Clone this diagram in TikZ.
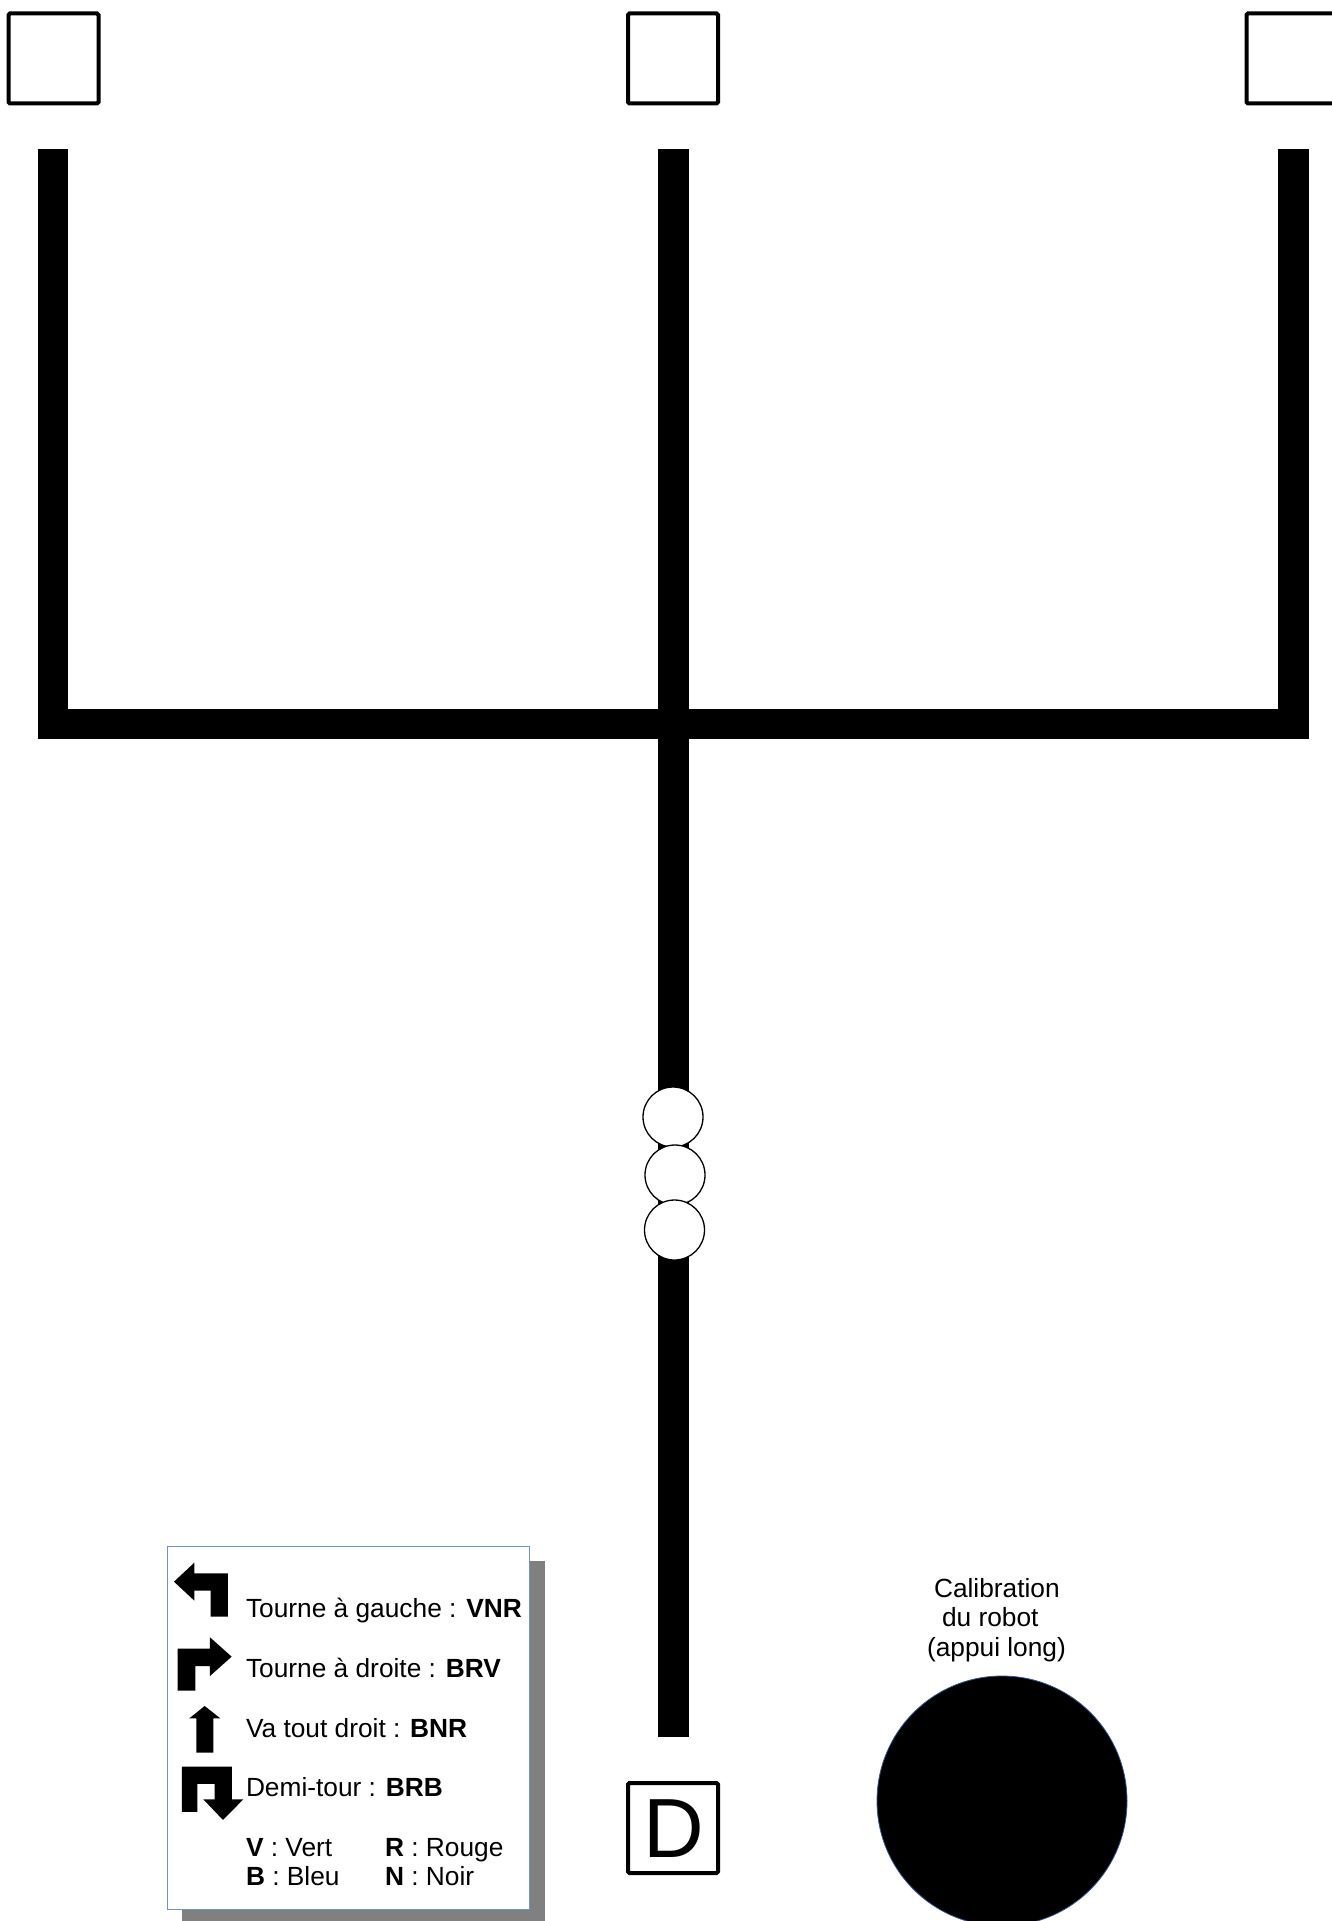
\documentclass[tikz,border=0pt]{standalone}
\usepackage{fontspec}
\setmainfont{Liberation Sans}
\definecolor{legendborder}{HTML}{6F93C6}
\definecolor{btnborder}{HTML}{2F5597}
\tikzset{
  x=1pt,y=-1pt,
  startbox/.style={draw=black,line width=4pt,rounded corners=1.5pt,fill=white,minimum width=90pt,minimum height=90pt,inner sep=0pt,outer sep=0pt},
  track/.style={fill=black},
  sensor/.style={circle,draw=black,line width=1.3pt,fill=white,minimum size=60pt,inner sep=0pt},
  txt/.style={anchor=base west,inner sep=0pt,outer sep=0pt,font=\fontsize{26.3}{30}\selectfont},
  turnarrow/.style={fill=black},
}
\begin{document}
\begin{tikzpicture}
\path[fill=white] (0,0) rectangle (1332,1921);
\clip (0,0) rectangle (1332,1921);
% target boxes
\node[startbox] (t1) at (53.5,58.5) {};
\node[startbox] (t2) at (673,58.5) {};
\node[startbox] (t3) at (1291.5,58.5) {};
% tracks
\fill[track] (38,149) rectangle (68,739);
\fill[track] (658,149) rectangle (689,1737);
\fill[track] (1278,149) rectangle (1309,739);
\fill[track] (38,708.5) rectangle (1309,739);
% sensors
\node[sensor] (s1) at (673,1117) {};
\node[sensor] (s2) at (675,1175) {};
\node[sensor] (s3) at (674.5,1230) {};
% start
\node[startbox] (start) at (673,1828) {};
\node[anchor=base west,inner sep=0pt,font=\fontsize{84}{90}\selectfont] (dlabel) at (643,1857.5) {D};
% calibration
\node[circle,draw=btnborder,line width=0.8pt,fill=black,minimum size=250pt,inner sep=0pt] (btn) at (1002,1801) {};
\node[txt] (c1) at (934,1597) {Calibration};
\node[txt] (c2) at (942,1626) {du robot};
\node[txt] (c3) at (927,1656) {(appui long)};
% legend
\fill[fill=black!50] (182,1561) rectangle (545,1930);
\draw[legendborder,line width=0.9pt,fill=white] (167,1546) rectangle (529,1909);
\begin{scope}[shift={(150,1530)},x=0.3333pt,y=-0.3333pt]
\fill[turnarrow] (72,155)--(133,98)--(133,130)--(234,130)--(234,260)--(182,260)--(182,182)--(133,182)--(133,212)--cycle;
\fill[turnarrow] (83,356)--(180,356)--(180,322)--(245,380)--(180,438)--(180,408)--(136,408)--(136,482)--(83,482)--cycle;
\fill[turnarrow] (118,565)--(164,528)--(211,565)--(190,565)--(190,668)--(139,668)--(139,565)--cycle;
\fill[turnarrow] (96,710)--(246,710)--(246,808)--(280,808)--(219,870)--(160,808)--(194,808)--(194,762)--(142,762)--(142,846)--(96,846)--cycle;
\end{scope}
\node[txt] (l1) at (246,1617) {Tourne à gauche : \textbf{VNR}};
\node[txt] (l2) at (246,1677) {Tourne à droite : \textbf{BRV}};
\node[txt] (l3) at (246,1737) {Va tout droit : \textbf{BNR}};
\node[txt] (l4) at (246,1796) {Demi-tour : \textbf{BRB}};
\node[txt] (k1) at (246,1856) {\textbf{V} : Vert};
\node[txt] (k2) at (246,1885) {\textbf{B} : Bleu};
\node[txt] (k3) at (385,1856) {\textbf{R} : Rouge};
\node[txt] (k4) at (385,1885) {\textbf{N} : Noir};
\end{tikzpicture}
\end{document}
